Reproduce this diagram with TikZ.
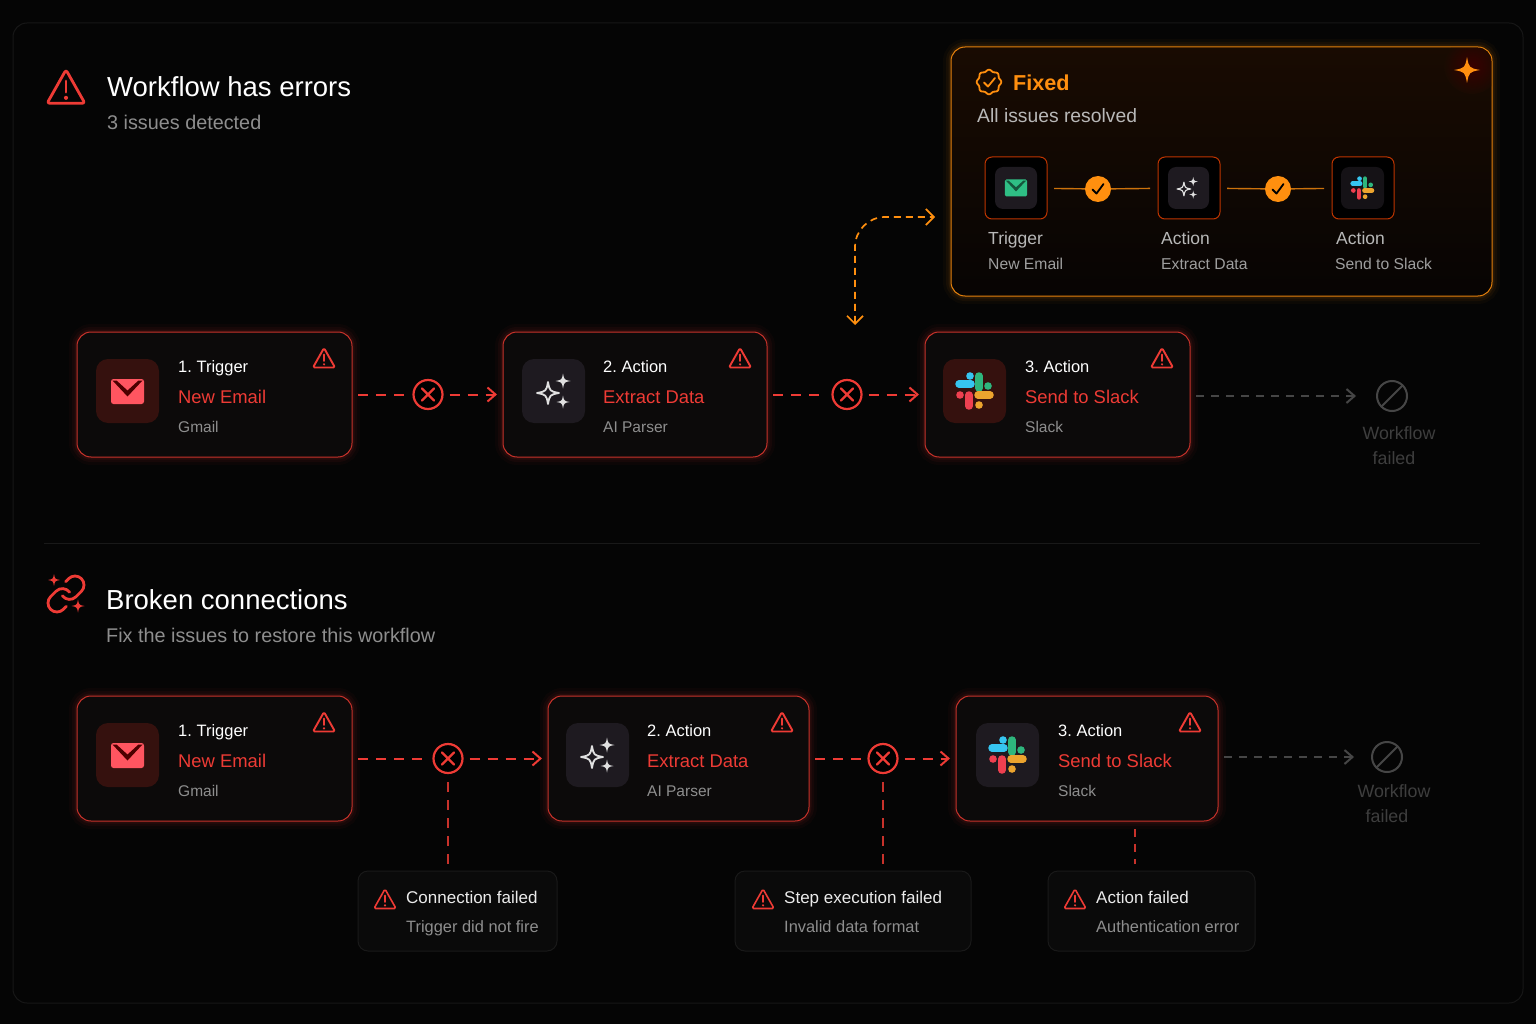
\documentclass[tikz,border=0pt]{standalone}
\usepackage{fontspec}
\setmainfont{Liberation Sans}
\usetikzlibrary{arrows.meta}

\definecolor{errred}{HTML}{EE3B35}
\definecolor{cardred}{HTML}{C8322B}
\definecolor{fixorange}{HTML}{FF8F0F}
\definecolor{softgrey}{HTML}{8E8E8E}
\definecolor{deadgrey}{HTML}{464646}
\definecolor{deadtext}{HTML}{3E3E3E}
\definecolor{panelfill}{HTML}{0C0A0A}
\definecolor{tilered}{HTML}{35110E}
\definecolor{tiledark}{HTML}{1E1A20}
\definecolor{panelhigh}{HTML}{190B02}
\definecolor{panellow}{HTML}{070403}
\definecolor{mailred}{HTML}{FF5560}
\definecolor{mailgreen}{HTML}{2FBF85}
\definecolor{slackblue}{HTML}{36C5F0}
\definecolor{slackgreen}{HTML}{2EB67D}
\definecolor{slackred}{HTML}{EE4050}
\definecolor{slackyellow}{HTML}{ECA42E}

\tikzset{
  redglow/.style={preaction={draw=#1,line width=16pt,opacity=.03},preaction={draw=#1,line width=10pt,opacity=.05},preaction={draw=#1,line width=5pt,opacity=.08}},
  stepcard/.style={redglow=errred,draw=cardred,line width=1pt,fill=panelfill,rounded corners=14pt,anchor=north west,inner sep=0pt,outer sep=0pt,minimum height=125pt},
  notecard/.style={draw=white!10!black,line width=1pt,fill=white!4!black,rounded corners=10pt,anchor=north west,inner sep=0pt,outer sep=0pt,minimum height=80pt},
  minibox/.style={draw=orange!55!red!75!black,line width=1pt,fill=black,rounded corners=7pt,anchor=north west,inner sep=0pt,outer sep=0pt,minimum width=62pt,minimum height=62pt},
  errdot/.style={circle,draw=errred,line width=2.2pt,fill=black,minimum size=29pt,inner sep=0pt,
    path picture={\draw[errred,line width=2.2pt,line cap=round,shift={(path picture bounding box.center)}] (-6,-6) -- (6,6) (-6,6) -- (6,-6);}},
  deaddot/.style={circle,draw=deadgrey,line width=2pt,minimum size=30pt,inner sep=0pt,
    path picture={\draw[deadgrey,line width=2pt,shift={(path picture bounding box.center)}] (-11,11) -- (11,-11);}},
  okdot/.style={circle,fill=fixorange,minimum size=26pt,inner sep=0pt,
    path picture={\draw[black,line width=1.8pt,line cap=round,line join=round,shift={(path picture bounding box.center)}] (-5.5,.5) -- (-1.5,4.5) -- (5.5,-5);}},
  errline/.style={errred,line width=2pt,dash pattern=on 10pt off 8pt,-{Straight Barb[length=8pt,width=14pt,line width=2pt]},shorten <=6pt,shorten >=6pt},
  errplain/.style={errline,arrows=-},
  deadline/.style={deadgrey,line width=2pt,dash pattern=on 8pt off 7pt,-{Straight Barb[length=8pt,width=14pt,line width=2pt]},shorten <=6pt,shorten >=20pt},
  fixline/.style={fixorange,line width=1.7pt,dash pattern=on 7pt off 5pt,{Straight Barb[length=8pt,width=16pt,line width=1.7pt]}-{Straight Barb[length=8pt,width=16pt,line width=1.7pt]}},
  okline/.style={fixorange!80!black,line width=1.4pt},
  txt/.style={anchor=base west,inner sep=0pt},
  headtext/.style={txt,white,font=\fontsize{27.5}{32}\selectfont},
  subtext/.style={txt,softgrey,font=\fontsize{19.8}{24}\selectfont},
  stepnum/.style={txt,white,font=\fontsize{16.5}{20}\selectfont},
  stepname/.style={txt,errred,font=\fontsize{18.4}{22}\selectfont},
  stepapp/.style={txt,softgrey,font=\fontsize{15.5}{20}\selectfont},
  notehead/.style={txt,white!92!black,font=\fontsize{17}{20}\selectfont},
  notesub/.style={txt,softgrey,font=\fontsize{16.4}{20}\selectfont},
  minihead/.style={txt,white!72!black,font=\fontsize{17.5}{20}\selectfont},
  minisub/.style={txt,white!62!black,font=\fontsize{15.7}{20}\selectfont},
  deadtxt/.style={inner sep=0pt,anchor=base,deadtext,font=\fontsize{17.8}{20}\selectfont}
}

% warning triangle: x, y, size, line width
\newcommand{\warnicon}[4]{
  \begin{scope}[shift={(#1,#2)},scale=#3]
    \draw[errred,line width=#4,line join=round,rounded corners=#3*1.5pt] (0,-10) -- (11,9.5) -- (-11,9.5) -- cycle;
    \draw[errred,line width=#4,line cap=round] (0,-3.5) -- (0,3);
    \fill[errred] (0,6.3) circle (1.2);
  \end{scope}
}
% four pointed star: options, x, y, radius
\newcommand{\sparkle}[4][]{
  \begin{scope}[shift={(#2,#3)},scale=#4]
    \path[#1] (0,-1) .. controls (.16,-.16) .. (1,0) .. controls (.16,.16) .. (0,1) .. controls (-.16,.16) .. (-1,0) .. controls (-.16,-.16) .. (0,-1) -- cycle;
  \end{scope}
}
% the three stars on a tile: x, y, size
\newcommand{\starsicon}[3]{
  \sparkle[draw=white!88!black,line width=#3*1.8pt,line join=round]{#1-5*#3}{#2}{11*#3}
  \sparkle[fill=white!88!black]{#1+10*#3}{#2-12*#3}{7.5*#3}
  \sparkle[fill=white!88!black]{#1+10*#3}{#2+9*#3}{6.5*#3}
}
% envelope: x, y, size, body colour, flap colour
\newcommand{\mailicon}[5]{
  \begin{scope}[shift={(#1,#2)},scale=#3]
    \fill[#4,rounded corners=#3*2.5pt] (-16.5,-12.5) rectangle (16.5,12.5);
    \fill[#5] (-15,-11) -- (0,5) -- (15,-11) -- (11,-11) -- (0,-1) -- (-11,-11) -- cycle;
  \end{scope}
}
% slack mark: x, y, size
\newcommand{\slackicon}[3]{
  \begin{scope}[shift={(#1,#2)},scale=#3,line cap=round,line width=#3*7.5pt]
    \draw[slackblue] (-15,-7) -- (-3,-7);
    \fill[slackblue] (-4,-15) circle (3.8);
    \draw[slackgreen] (5,-15) -- (5,-3);
    \fill[slackgreen] (14,-5) circle (3.8);
    \draw[slackred] (-5,4) -- (-5,15);
    \fill[slackred] (-14,4) circle (3.8);
    \draw[slackyellow] (4,4) -- (16,4);
    \fill[slackyellow] (5,14) circle (3.8);
  \end{scope}
}

\begin{document}
\frenchspacing
\begin{tikzpicture}[x=1pt,y=-1pt]
  \useasboundingbox (0,0) rectangle (1536,1024);
  % page and outer frame
  \fill[black!98!white] (0,0) rectangle (1536,1024);
  \draw[white!9!black,fill=white!2!black,line width=1pt,rounded corners=14pt] (13,23) rectangle (1523,1003);
  \draw[white!10!black,line width=1pt] (44,543) -- (1480,543);

  % first heading
  \warnicon{66}{87}{1.72}{2.8pt}
  \node[headtext] (head1) at (107,97) {Workflow has errors};
  \node[subtext] (sub1) at (107,130) {3 issues detected};

  % fixed panel
  \node[redglow=fixorange,draw=fixorange!90!black,line width=1pt,rounded corners=14pt,top color=panelhigh,bottom color=panellow,anchor=north west,inner sep=0pt,outer sep=0pt,minimum width=541pt,minimum height=249pt] (fixed) at (951,47) {};
  \begin{scope}
    \clip[rounded corners=13pt] (952,48) rectangle (1491,295);
    \shade[inner color=red!22!black,outer color=panelhigh] (1472,66) circle (28);
  \end{scope}
  \sparkle[fill=fixorange]{1467}{70}{13}
  \draw[fixorange,line width=1.8pt,smooth] plot[domain=0:360,samples=97] ({989+(11.5+.8*cos(8*\x))*cos(\x)},{82+(11.5+.8*cos(8*\x))*sin(\x)}) -- cycle;
  \draw[fixorange,line width=1.8pt,line cap=round,line join=round] (984,82.5) -- (988,86.5) -- (995,78);
  \node[txt,fixorange,font=\fontsize{21.6}{26}\selectfont\bfseries] (fixhead) at (1013,90.5) {Fixed};
  \node[minihead,font=\fontsize{19.3}{24}\selectfont] (fixsub) at (977,123) {All issues resolved};

  % small steps inside the panel
  \node[minibox] (m1) at (985,157) {};
  \node[minibox] (m2) at (1158,157) {};
  \node[minibox] (m3) at (1332,157) {};
  \node[okdot] (ok1) at (1098,189) {};
  \node[okdot] (ok2) at (1278,189) {};
  \draw[okline,shorten <=7pt] (m1) -- (ok1);
  \draw[okline,shorten >=8pt] (ok1) -- (m2);
  \draw[okline,shorten <=7pt] (m2) -- (ok2);
  \draw[okline,shorten >=8pt] (ok2) -- (m3);
  \fill[tiledark,rounded corners=8pt] (995,167) rectangle (1037,209);
  \fill[tiledark,rounded corners=8pt] (1168,167) rectangle (1209,209);
  \fill[tiledark!70!black,rounded corners=8pt] (1341,167) rectangle (1384,209);
  \mailicon{1016}{188}{.68}{mailgreen}{mailgreen!45!black}
  \starsicon{1187}{189}{.62}
  \slackicon{1362}{188}{.62}
  \node[minihead] (m1a) at (988,244.5) {Trigger};
  \node[minisub] (m1b) at (988,270) {New Email};
  \node[minihead] (m2a) at (1161,244.5) {Action};
  \node[minisub] (m2b) at (1161,270) {Extract Data};
  \node[minihead] (m3a) at (1336,244.5) {Action};
  \node[minisub] (m3b) at (1335,270) {Send to Slack};

  % loop between the panel and the first row
  \coordinate (loopa) at (855,325);
  \coordinate (loopb) at (935,217);
  \draw[fixline,rounded corners=30pt] (loopa) |- (loopb);

  % first row
  \node[stepcard,minimum width=275pt] (a1) at (77,332) {};
  \node[stepcard,minimum width=264pt] (a2) at (503,332) {};
  \node[stepcard,minimum width=265pt] (a3) at (925,332) {};
  \node[errdot] (x1) at (428,394.5) {};
  \node[errdot] (x2) at (847,394.5) {};
  \node[deaddot] (d1) at (1392,396) {};
  \draw[errplain] (a1) -- (x1);
  \draw[errline] (x1) -- (a2);
  \draw[errplain] (a2) -- (x2);
  \draw[errline] (x2) -- (a3);
  \draw[deadline] (a3.east |- d1) -- (d1);

  \fill[tilered,rounded corners=12pt] (96,359) rectangle (159,423);
  \fill[tiledark,rounded corners=12pt] (522,359) rectangle (585,423);
  \fill[tilered,rounded corners=12pt] (943,359) rectangle (1006,423);
  \mailicon{127.5}{391.5}{1}{mailred}{red!30!black}
  \starsicon{553}{393}{1}
  \slackicon{974}{391}{1}
  \warnicon{324}{358}{1}{1.9pt}
  \warnicon{740}{358}{1}{1.9pt}
  \warnicon{1162}{358}{1}{1.9pt}

  \node[stepnum] (a1a) at (178,372) {1. Trigger};
  \node[stepname] (a1b) at (178,403) {New Email};
  \node[stepapp] (a1c) at (178,432) {Gmail};
  \node[stepnum] (a2a) at (603,372) {2. Action};
  \node[stepname] (a2b) at (603,403) {Extract Data};
  \node[stepapp] (a2c) at (603,432) {AI Parser};
  \node[stepnum] (a3a) at (1025,372) {3. Action};
  \node[stepname] (a3b) at (1025,403) {Send to Slack};
  \node[stepapp] (a3c) at (1025,432) {Slack};
  \node[deadtxt] (d1a) at (1399,439) {Workflow};
  \node[deadtxt] (d1b) at (1394,464) {failed};

  % second heading
  \begin{scope}[shift={(44.4,572.4)},scale=1.8]
    \draw[errred,line width=2.8pt,line cap=round] (10,13) .. controls (11.82,15.43) and (15.39,15.69) .. (17.54,13.54) -- (20.54,10.54) .. controls (22.49,8.59) and (22.49,5.41) .. (20.54,3.46) .. controls (18.59,1.51) and (15.42,1.52) .. (13.47,3.47) -- (11.75,5.18);
    \draw[errred,line width=2.8pt,line cap=round] (14,11) .. controls (12.18,8.57) and (8.61,8.31) .. (6.46,10.46) -- (3.46,13.46) .. controls (1.51,15.41) and (1.51,18.59) .. (3.46,20.54) .. controls (5.41,22.49) and (8.58,22.48) .. (10.53,20.53) -- (12.25,18.82);
  \end{scope}
  \sparkle[fill=errred]{54}{580}{6}
  \sparkle[fill=errred]{78}{606}{6.5}
  \node[headtext] (head2) at (106,609) {Broken connections};
  \node[subtext] (sub2) at (106,642) {Fix the issues to restore this workflow};

  % second row
  \node[stepcard,minimum width=275pt] (b1) at (77,696) {};
  \node[stepcard,minimum width=261pt] (b2) at (548,696) {};
  \node[stepcard,minimum width=262pt] (b3) at (956,696) {};
  \node[errdot] (y1) at (448,758.5) {};
  \node[errdot] (y2) at (883,758.5) {};
  \node[deaddot] (d2) at (1387,757) {};
  \node[notecard,minimum width=199pt] (n1) at (358,871) {};
  \node[notecard,minimum width=236pt] (n2) at (735,871) {};
  \node[notecard,minimum width=207pt] (n3) at (1048,871) {};
  \coordinate (n3top) at (1135,871);
  \draw[errplain] (b1) -- (y1);
  \draw[errline] (y1) -- (b2);
  \draw[errplain] (b2) -- (y2);
  \draw[errline] (y2) -- (b3);
  \draw[deadline,shorten >=17pt] (b3.east |- d2) -- (d2);
  \draw[errplain,cardred,shorten <=8pt,shorten >=7pt] (y1) -- (y1 |- n1.north);
  \draw[errplain,cardred,shorten <=8pt,shorten >=7pt] (y2) -- (y2 |- n2.north);
  \draw[errplain,cardred,dash pattern=on 8pt off 7pt,shorten <=8pt,shorten >=7pt] (n3top |- b3.south) -- (n3top);

  \fill[tilered,rounded corners=12pt] (96,723) rectangle (159,787);
  \fill[tiledark,rounded corners=12pt] (566,723) rectangle (629,787);
  \fill[tiledark,rounded corners=12pt] (976,723) rectangle (1039,787);
  \mailicon{127.5}{755.5}{1}{mailred}{red!30!black}
  \starsicon{597}{757}{1}
  \slackicon{1007}{755}{1}
  \warnicon{324}{722}{1}{1.9pt}
  \warnicon{782}{722}{1}{1.9pt}
  \warnicon{1190}{722}{1}{1.9pt}

  \node[stepnum] (b1a) at (178,736) {1. Trigger};
  \node[stepname] (b1b) at (178,767) {New Email};
  \node[stepapp] (b1c) at (178,796) {Gmail};
  \node[stepnum] (b2a) at (647,736) {2. Action};
  \node[stepname] (b2b) at (647,767) {Extract Data};
  \node[stepapp] (b2c) at (647,796) {AI Parser};
  \node[stepnum] (b3a) at (1058,736) {3. Action};
  \node[stepname] (b3b) at (1058,767) {Send to Slack};
  \node[stepapp] (b3c) at (1058,796) {Slack};
  \node[deadtxt] (d2a) at (1394,797) {Workflow};
  \node[deadtxt] (d2b) at (1387,822) {failed};

  % notes under the second row
  \warnicon{385}{899}{1}{1.6pt}
  \warnicon{763}{899}{1}{1.6pt}
  \warnicon{1075}{899}{1}{1.6pt}
  \node[notehead] (n1a) at (406,903) {Connection failed};
  \node[notesub] (n1b) at (406,932) {Trigger did not fire};
  \node[notehead] (n2a) at (784,903) {Step execution failed};
  \node[notesub] (n2b) at (784,932) {Invalid data format};
  \node[notehead] (n3a) at (1096,903) {Action failed};
  \node[notesub] (n3b) at (1096,932) {Authentication error};
\end{tikzpicture}
\end{document}
